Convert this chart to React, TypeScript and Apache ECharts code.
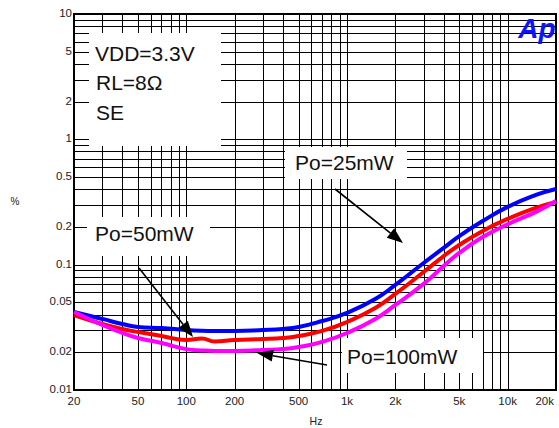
import React, { useEffect, useRef } from "react";
import * as echarts from "echarts";

// ---- data ----
const freqs = [20, 30, 40, 50, 70, 100, 125, 150, 200, 300, 400, 500, 700, 1000, 1500, 2000, 3000, 4000, 5000, 7000, 10000, 15000, 20000];
const po25mW = [0.0419, 0.0369, 0.0336, 0.0318, 0.0312, 0.0301, 0.0297, 0.0296, 0.0296, 0.0301, 0.0307, 0.0318, 0.0355, 0.0412, 0.0532, 0.0689, 0.1031, 0.136, 0.169, 0.223, 0.289, 0.36, 0.402];
const po50mW = [0.0396, 0.0336, 0.0307, 0.029, 0.027, 0.0251, 0.0257, 0.0244, 0.0251, 0.0255, 0.026, 0.027, 0.0296, 0.0349, 0.0451, 0.0584, 0.0874, 0.117, 0.1436, 0.186, 0.232, 0.284, 0.317];
const po100mW = [0.0419, 0.033, 0.0285, 0.026, 0.0237, 0.0212, 0.0207, 0.0205, 0.0205, 0.0209, 0.0212, 0.022, 0.0242, 0.0285, 0.0369, 0.0477, 0.0702, 0.0977, 0.124, 0.166, 0.21, 0.264, 0.322];

const xTickValues = [20, 50, 100, 200, 500, 1000, 2000, 5000, 10000, 20000];
const xTickLabels = ["20", "50", "100", "200", "500", "1k", "2k", "5k", "10k", "20k"];
const yTickValues = [0.01, 0.02, 0.05, 0.1, 0.2, 0.5, 1, 2, 5, 10];
const yTickLabels = ["0.01", "0.02", "0.05", "0.1", "0.2", "0.5", "1", "2", "5", "10"];

const X_MIN = 20, X_MAX = 20000, Y_MIN = 0.01, Y_MAX = 10;

function logGrid(min: number, max: number): number[] {
  const out: number[] = [];
  for (let d = 0.001; d <= 10000; d *= 10) {
    for (let m = 1; m <= 9; m++) {
      const v = +(m * d).toPrecision(3);
      if (v >= min * 0.999 && v <= max * 1.001) out.push(v);
    }
  }
  return out;
}
const xGridValues = logGrid(X_MIN, X_MAX);
const yGridValues = logGrid(Y_MIN, Y_MAX);

const FONT = "Arial, 'Liberation Sans', Helvetica, sans-serif";

function arrow(x1: number, y1: number, x2: number, y2: number) {
  const a = Math.atan2(y2 - y1, x2 - x1);
  const L = 16, W = 6;
  const bx = x2 - L * Math.cos(a), by = y2 - L * Math.sin(a);
  const px = -Math.sin(a), py = Math.cos(a);
  return [
    { type: "line", z: 10, silent: true, shape: { x1, y1, x2: bx, y2: by }, style: { stroke: "#000", lineWidth: 1.6 } },
    {
      type: "polygon", z: 10, silent: true,
      shape: { points: [[x2, y2], [bx + W * px, by + W * py], [bx - W * px, by - W * py]] },
      style: { fill: "#000" },
    },
  ];
}

function box(x: number, y: number, w: number, h: number) {
  return { type: "rect", z: 3, silent: true, shape: { x, y, width: w, height: h }, style: { fill: "#fff" } };
}

function label(text: string, x: number, y: number, size = 21) {
  return {
    type: "text", z: 10, silent: true, x, y,
    style: { text, fill: "#111", font: `${size}px ${FONT}`, align: "left", verticalAlign: "middle" },
  };
}

export default function App() {
  const ref = useRef<HTMLDivElement>(null);
  useEffect(() => {
    if (!ref.current) return;
    const chart = echarts.init(ref.current, null, { renderer: "svg" });
    const mk = (vals: number[]) => freqs.map((f, i) => [f, vals[i]]);
    const crisp = (v: number) => Math.round(v) + 0.5;
    const lineSeries = (name: string, vals: number[], color: string) => ({
      name, type: "line", z: 5, data: mk(vals), smooth: 0.5, symbol: "none",
      lineStyle: { color, width: 4 },
    });

    chart.setOption({
      animation: false,
      backgroundColor: "#fff",
      grid: { left: 74, right: 3, top: 14, bottom: 38, show: true, borderColor: "#000", borderWidth: 2, backgroundColor: "#fff", z: 0 },
      xAxis: {
        type: "log", logBase: 10, min: X_MIN, max: X_MAX,
        axisLine: { show: false }, axisTick: { show: false }, axisLabel: { show: false }, splitLine: { show: false },
      },
      yAxis: {
        type: "log", logBase: 10, min: Y_MIN, max: Y_MAX,
        axisLine: { show: false }, axisTick: { show: false }, axisLabel: { show: false }, splitLine: { show: false },
      },
      series: [
        {
          type: "custom", silent: true, z: 1, clip: false,
          data: xGridValues.map((f) => [f, Y_MIN]),
          renderItem: (_p: any, api: any) => {
            const f = api.value(0);
            const a = api.coord([f, Y_MIN]);
            const b = api.coord([f, Y_MAX]);
            const x = crisp(a[0]);
            return { type: "line", shape: { x1: x, y1: a[1], x2: x, y2: b[1] }, style: { stroke: "#000", lineWidth: 1 } };
          },
        },
        {
          type: "custom", silent: true, z: 1, clip: false,
          data: yGridValues.map((v) => [X_MIN, v]),
          renderItem: (_p: any, api: any) => {
            const v = api.value(1);
            const a = api.coord([X_MIN, v]);
            const b = api.coord([X_MAX, v]);
            const y = crisp(a[1]);
            return { type: "line", shape: { x1: a[0], y1: y, x2: b[0], y2: y }, style: { stroke: "#000", lineWidth: 1 } };
          },
        },
        {
          type: "custom", silent: true, z: 1, clip: false,
          data: xTickValues.map((f) => [f, Y_MIN]),
          renderItem: (p: any, api: any) => {
            const c = api.coord([api.value(0), Y_MIN]);
            const last = p.dataIndex === xTickValues.length - 1;
            return {
              type: "text", x: last ? c[0] - 2 : c[0], y: c[1] + 11,
              style: { text: xTickLabels[p.dataIndex], fill: "#222", font: `11.5px ${FONT}`, align: last ? "right" : "center", verticalAlign: "middle" },
            };
          },
        },
        {
          type: "custom", silent: true, z: 1, clip: false,
          data: yTickValues.map((v) => [X_MIN, v]),
          renderItem: (p: any, api: any) => {
            const c = api.coord([X_MIN, api.value(1)]);
            return {
              type: "text", x: c[0] - 2, y: c[1] - 1,
              style: { text: yTickLabels[p.dataIndex], fill: "#222", font: `11.5px ${FONT}`, align: "right", verticalAlign: "middle" },
            };
          },
        },
        lineSeries("Po=25mW", po25mW, "#0000ff"),
        lineSeries("Po=50mW", po50mW, "#ff0000"),
        lineSeries("Po=100mW", po100mW, "#ff00ff"),
      ],
      graphic: {
        elements: [
          box(89, 33, 132, 113),
          box(285, 147, 122, 32),
          box(87, 217, 123, 39),
          box(342, 338, 141, 35),
          label("VDD=3.3V", 95, 53.5),
          label("RL=8Ω", 96, 82),
          label("SE", 96, 112.5),
          label("Po=25mW", 295, 162),
          label("Po=50mW", 95, 233),
          label("Po=100mW", 347, 356.5),
          ...arrow(139, 268, 193, 337),
          ...arrow(335, 189, 403, 243),
          ...arrow(327, 365, 257, 353),
          {
            type: "text", z: 10, silent: true, x: 537, y: 28,
            style: { text: "Ap", fill: "#0a14ff", font: `italic bold 28px ${FONT}`, align: "center", verticalAlign: "middle" },
          },
          {
            type: "text", z: 10, silent: true, x: 15, y: 201,
            style: { text: "%", fill: "#222", font: `10px ${FONT}`, align: "center", verticalAlign: "middle" },
          },
          {
            type: "text", z: 10, silent: true, x: 316, y: 421,
            style: { text: "Hz", fill: "#222", font: `10.5px ${FONT}`, align: "center", verticalAlign: "middle" },
          },
        ],
      },
    });
    return () => chart.dispose();
  }, []);
  return <div ref={ref} style={{ position: "fixed", left: 0, top: 0, width: 559, height: 428 }} />;
}
